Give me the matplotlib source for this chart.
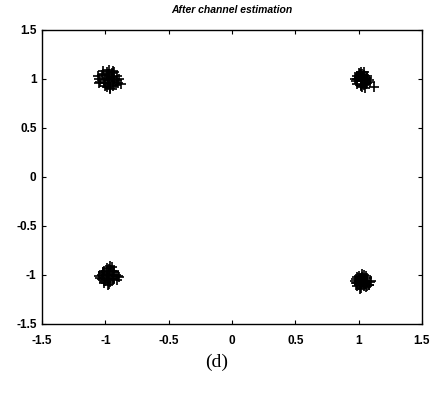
import matplotlib
matplotlib.use("Agg")
import matplotlib.pyplot as plt

# Cluster points (I / Q)
tl_x = [-1.03, -0.99, -0.95, -0.91, -1.00, -0.97, -0.93, -1.05, -0.98, -0.94,
        -0.90, -1.02, -0.97, -0.99, -0.93, -0.96, -1.06, -0.89, -0.98, -0.95,
        -1.01, -0.92, -0.97, -1.04, -0.96, -0.99, -0.93, -0.88, -0.97, -1.02,
        -0.95, -0.91, -0.98, -1.05, -0.96, -1.00, -0.94]
tl_y = [1.04, 1.07, 1.06, 1.03, 0.99, 1.00, 0.97, 1.00, 0.95, 0.93,
        0.96, 1.08, 1.04, 1.01, 1.07, 0.91, 1.03, 1.00, 0.99, 1.02,
        0.96, 0.94, 1.09, 0.97, 0.96, 0.92, 1.00, 0.95, 1.03, 1.05,
        1.02, 0.99, 1.05, 0.96, 0.90, 0.93, 1.08]

tr_x = [0.99, 1.03, 1.07, 1.02, 0.98, 1.06, 1.00, 1.04, 1.08, 1.02,
        0.99, 1.03, 1.06, 1.00, 1.04, 1.07, 0.97, 1.03, 1.02, 1.06,
        0.99, 1.05, 1.01, 1.03, 1.07, 1.01, 1.12, 1.09, 1.04, 1.00,
        1.05, 1.02]
tr_y = [1.03, 1.05, 1.01, 0.99, 0.98, 0.96, 1.06, 1.04, 0.99, 0.94,
        1.00, 0.92, 0.95, 1.02, 1.07, 1.03, 1.00, 0.98, 0.93, 1.00,
        0.95, 0.98, 1.04, 1.01, 0.96, 1.05, 0.92, 0.97, 0.94, 1.03,
        0.91, 1.07]

bl_x = [-1.01, -0.97, -0.93, -1.03, -0.99, -0.95, -0.92, -1.02, -0.98, -0.94,
        -0.90, -1.04, -0.97, -0.99, -0.93, -0.96, -1.01, -0.89, -0.98, -0.94,
        -1.03, -0.91, -0.97, -1.02, -0.95, -0.99, -0.93, -0.98, -0.96, -1.00,
        -0.96, -1.05]
bl_y = [-0.96, -0.94, -0.97, -1.00, -1.03, -1.01, -1.00, -0.98, -1.05, -1.04,
        -1.01, -1.03, -0.99, -0.93, -0.96, -1.07, -1.08, -1.02, -1.00, -1.00,
        -1.04, -1.05, -1.09, -0.97, -0.92, -1.01, -1.04, -1.10, -0.96, -1.06,
        -0.91, -1.01]

br_x = [0.99, 1.03, 1.07, 1.02, 0.98, 1.06, 1.00, 1.04, 1.08, 1.02,
        0.99, 1.03, 1.06, 1.00, 1.04, 1.07, 0.97, 1.03, 1.02, 1.06,
        0.99, 1.05, 1.01, 1.03, 1.09, 1.02, 1.07, 1.04, 0.98, 1.08,
        1.10, 1.01]
br_y = [-1.02, -1.04, -1.06, -1.07, -1.04, -1.09, -1.01, -1.11, -1.10, -1.06,
        -1.08, -1.02, -1.12, -1.10, -1.05, -1.03, -1.06, -1.07, -1.13, -1.01,
        -1.11, -1.09, -1.05, -0.99, -1.07, -1.03, -1.11, -1.00, -1.08, -1.10,
        -1.06, -1.14]

ticks = [-1.5, -1, -0.5, 0, 0.5, 1, 1.5]
tick_labels = ["-1.5", "-1", "-0.5", "0", "0.5", "1", "1.5"]

fig = plt.figure(figsize=(4.34, 3.94), dpi=100)
ax = fig.add_axes([0.097, 0.178, 0.875, 0.746])

for xs, ys in [(tl_x, tl_y), (tr_x, tr_y), (bl_x, bl_y), (br_x, br_y)]:
    ax.plot(xs, ys, linestyle="none", marker="+", color="black",
            markersize=6.5, markeredgewidth=1.2)

ax.set_xlim(-1.5, 1.5)
ax.set_ylim(-1.5, 1.5)
ax.set_xticks(ticks)
ax.set_xticklabels(tick_labels)
ax.set_yticks(ticks)
ax.set_yticklabels(tick_labels)
ax.tick_params(direction="in", top=True, right=True, length=3, width=0.8,
               labelsize=8.5)
ax.tick_params(axis="x", pad=8)
ax.tick_params(axis="y", pad=4)
for lab in ax.get_xticklabels() + ax.get_yticklabels():
    lab.set_family("Liberation Sans")
    lab.set_fontweight("bold")
for s in ax.spines.values():
    s.set_linewidth(1.0)

ax.set_title("After channel estimation", fontsize=7.5, style="italic",
             fontweight="bold", family="Liberation Sans", pad=12)

fig.text(0.5, 0.08, "(d)", ha="center", va="center", fontsize=14,
         family="Liberation Serif")

fig.savefig("out.png", dpi=100)
